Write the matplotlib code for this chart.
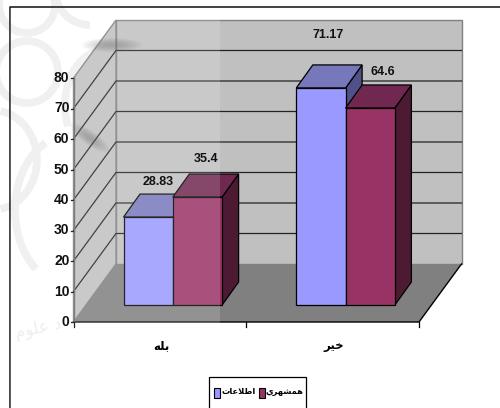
import matplotlib
matplotlib.use('Agg')
import matplotlib.pyplot as plt
from matplotlib.patches import Polygon, Rectangle, Arc, Ellipse

# Data
categories = ['\uFEEA\uFEE0\uFE91', '\uFEAE\uFEF4\uFEA7']   # bale, kheyr (visual order, shaped forms)
series_names = ['\uFE95\uFE8E\uFECB\uFEFC\uFEC3\uFE8D', '\uFEF1\uFEAE\uFEEC\uFEB8\uFEE4\uFEEB']
ettelaat = [28.83, 71.17]
hamshahri = [35.4, 64.6]
y_ticks = [0, 10, 20, 30, 40, 50, 60, 70, 80]

# Scene geometry in pixels
X0, X1, Y0 = 73.5, 419, 322      # front floor edge
DX, DY = 42.5, -58               # wall depth
SCALE = 3.05                     # pixels per unit
BAR_DX, BAR_DY = 16.5, -23
BAR_W = 49.3
BAR_BASE = 305
group_left = [123.5, 296.3]
label_offsets = [[(10, -35), (8.5, -38)], [(7, -53), (13, -36)]]
category_x = [161, 334]

NARROW = ['Liberation Sans', 'DejaVu Sans']

fig = plt.figure(figsize=(5, 4.08), dpi=100)
ax = fig.add_axes([0, 0, 1, 1])
ax.set_xlim(0, 500)
ax.set_ylim(408, 0)
ax.axis('off')

# Faint watermark behind the chart
for cx, cy, w, h, t1, t2 in [(27, 5, 56, 56, 0, 360), (27, 72, 62, 62, 0, 360),
                             (-8, 160, 90, 100, -80, 80), (70, 210, 110, 150, 120, 250),
                             (90, -10, 70, 70, 90, 170), (105, 105, 80, 110, 150, 280)]:
    ax.add_patch(Arc((cx, cy), w, h, theta1=t1, theta2=t2, color='#eeeeee', lw=5.5, zorder=1))
ax.text(38, 328, '\uFEE1\uFEEE\uFEE0\uFECB \uFEA9', ha='center', va='center', fontsize=12,
        rotation=12, color='#ececec', zorder=1)

# Frame, open at the right and bottom
ax.plot([10, 10, 500], [408, 6.5, 6.5], color='#222222', lw=1.2, zorder=2)

# Walls and floor
back_top = Y0 + DY - 80 * SCALE
front_top = Y0 - 80 * SCALE
ax.add_patch(Rectangle((X0 + DX, back_top), X1 - X0, 80 * SCALE, fc='#c0c0c0', ec='#808080', lw=1, zorder=3))
ax.add_patch(Polygon([(X0, Y0), (X0 + DX, Y0 + DY), (X0 + DX, back_top), (X0, front_top)],
                     fc='#c0c0c0', ec='#808080', lw=1, zorder=3))
ax.add_patch(Polygon([(X0, Y0), (X1, Y0), (X1 + DX, Y0 + DY), (X0 + DX, Y0 + DY)],
                     fc='#808080', ec='none', zorder=3))
ax.plot([X0, X1, X1 + DX], [Y0, Y0, Y0 + DY], color='black', lw=1, zorder=3.5)

# Gridlines and axis ticks
for v in y_ticks:
    y = Y0 - v * SCALE
    if 0 < v < 80:
        ax.plot([X0, X0 + DX, X1 + DX], [y, y + DY, y + DY], color='#222222', lw=0.9, zorder=3.5)
    ax.plot([X0 - 3, X0], [y, y], color='black', lw=0.9, zorder=3.5)
    ax.text(X0 - 4, y, str(v), ha='right', va='center', fontsize=10, fontweight='bold',
            family=NARROW, color='#111111', zorder=6)
ax.plot([X0, X0], [Y0, front_top], color='#666666', lw=1, zorder=3.5)
for x in [X0, (X0 + X1) / 2, X1]:
    ax.plot([x, x], [Y0, Y0 + 5], color='black', lw=0.9, zorder=3.5)


def draw_bar(left, value, front, top, side):
    right = left + BAR_W
    y = BAR_BASE - value * SCALE
    ax.add_patch(Polygon([(right, BAR_BASE), (right + BAR_DX, BAR_BASE + BAR_DY),
                          (right + BAR_DX, y + BAR_DY), (right, y)],
                         fc=side, ec='black', lw=0.9, zorder=4))
    ax.add_patch(Polygon([(left, y), (left + BAR_DX, y + BAR_DY),
                          (right + BAR_DX, y + BAR_DY), (right, y)],
                         fc=top, ec='black', lw=0.9, zorder=4))
    ax.add_patch(Rectangle((left, y), BAR_W, value * SCALE, fc=front, ec='black', lw=0.9, zorder=4))


# Bars, back to front so the shorter one overlaps properly
for i, left in enumerate(group_left):
    draw_bar(left, ettelaat[i], '#9999ff', '#7777bb', '#50508a')
    draw_bar(left + BAR_W, hamshahri[i], '#993366', '#702850', '#4d1a33')
    for j, val in enumerate([ettelaat[i], hamshahri[i]]):
        ox, oy = label_offsets[i][j]
        cx = left + BAR_W * (j + 0.5) + ox
        cy = BAR_BASE - val * SCALE + oy
        ax.text(cx, cy, f'{val:g}', ha='center', va='center', fontsize=9, fontweight='bold',
                family=NARROW, color='#111111', zorder=6)
    ax.text(category_x[i], 346, categories[i], ha='center', va='center',
            fontsize=8.5, fontweight='bold', color='black', zorder=6)

# The washed-out left part of the scanned page, with its soft smudges
ax.add_patch(Rectangle((10, 8), 210, 400, fc='white', ec='none', alpha=0.15, zorder=5))
for k in range(8):
    ax.add_patch(Ellipse((112, 45), 60 - 6 * k, 14 - 1.5 * k, fc='#666666', ec='none', alpha=0.05, zorder=5))
    ax.add_patch(Ellipse((90, 138), 46 - 5 * k, 14 - 1.5 * k, angle=35, fc='#666666', ec='none', alpha=0.05, zorder=5))

# Legend, its bottom edge runs off the page
ax.add_patch(Rectangle((209, 377), 96.5, 40, fc='white', ec='black', lw=0.9, zorder=6))
ax.add_patch(Rectangle((213.5, 388), 6, 10, fc='#9999ff', ec='black', lw=0.8, zorder=7))
ax.text(239, 392, series_names[0], ha='center', va='center', fontsize=6, fontweight='bold', zorder=7)
ax.add_patch(Rectangle((258.5, 388), 6, 10, fc='#993366', ec='black', lw=0.8, zorder=7))
ax.text(285, 392, series_names[1], ha='center', va='center', fontsize=6, fontweight='bold', zorder=7)

fig.savefig('out.png', dpi=100)
